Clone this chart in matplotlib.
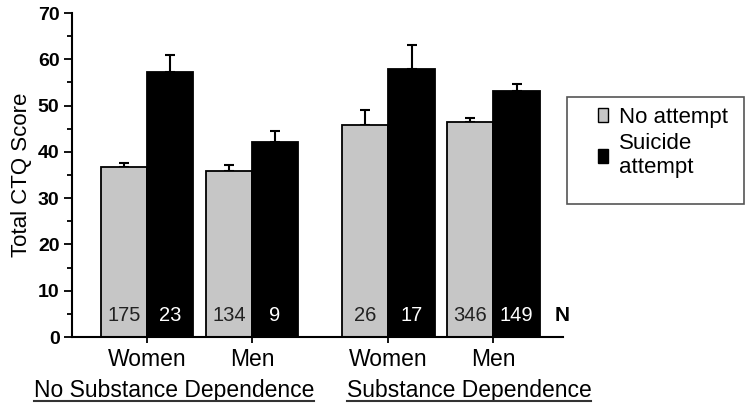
import matplotlib
matplotlib.use("Agg")
import matplotlib.pyplot as plt
from matplotlib.patches import Rectangle, Patch
from matplotlib.lines import Line2D
import matplotlib.transforms as mtrans

plt.rcParams['font.family'] = ['Liberation Sans', 'DejaVu Sans']

# data
sexes = ["Women", "Men", "Women", "Men"]
groups = ["No Substance Dependence", "Substance Dependence"]
no_attempt = [36.7, 35.9, 45.9, 46.5]
no_attempt_err = [0.9, 1.2, 3.2, 0.8]
attempt = [57.2, 42.2, 58.0, 53.1]
attempt_err = [3.8, 2.4, 5.0, 1.5]
n_no = [175, 134, 26, 346]
n_att = [23, 9, 17, 149]

pos = [0, 1, 2.3, 3.3]
w = 0.44
gray = "#c6c6c6"

fig = plt.figure(figsize=(7.5, 4.11), dpi=100)
ax = fig.add_axes([72/750, 74/411, 491/750, 324/411])

xg = [p - w/2 for p in pos]
xb = [p + w/2 for p in pos]
ax.bar(xg, no_attempt, w, color=gray, edgecolor="black", linewidth=1.3, zorder=2)
ax.bar(xb, attempt, w, color="black", edgecolor="black", linewidth=1.3, zorder=2)
ax.errorbar(xg, no_attempt, yerr=[[0]*4, no_attempt_err], fmt="none",
            ecolor="black", elinewidth=1.5, capsize=3.5, capthick=1.5, zorder=1)
ax.errorbar(xb, attempt, yerr=[[0]*4, attempt_err], fmt="none",
            ecolor="black", elinewidth=1.5, capsize=3.5, capthick=1.5, zorder=1)

for x, n in zip(xg, n_no):
    ax.text(x, 4.7, str(n), ha="center", va="center", fontsize=14.5, color="#222222", zorder=3)
for x, n in zip(xb, n_att):
    ax.text(x, 4.7, str(n), ha="center", va="center", fontsize=14.5, color="white", zorder=3)
ax.text(3.95, 4.7, "N", ha="center", va="center", fontsize=15, fontweight="bold")

ax.set_xlim(-0.714, 3.962)
ax.set_ylim(0, 70)
ax.set_yticks(range(0, 71, 10))
ax.set_yticks(range(5, 70, 10), minor=True)
for lab in ax.get_yticklabels():
    lab.set_fontweight("bold")
ax.tick_params(axis="y", which="major", length=6, width=1.3, labelsize=14, pad=3)
ax.tick_params(axis="y", which="minor", length=3.5, width=1.3)
ax.set_xticks(pos)
ax.set_xticklabels(sexes, fontsize=16.5)
ax.tick_params(axis="x", length=4, width=1.3, pad=4)
for s in ["top", "right"]:
    ax.spines[s].set_visible(False)
for s in ["left", "bottom"]:
    ax.spines[s].set_linewidth(1.5)
ax.set_ylabel("Total CTQ Score", fontsize=16, labelpad=4)

# group labels, underlined
tr = mtrans.blended_transform_factory(ax.transData, fig.transFigure)
glabels = []
for gx, g in zip([0.257, 3.067], groups):
    glabels.append(ax.text(gx, (411-397)/411, g, transform=tr, ha="center",
                           va="baseline", fontsize=16.5))
fig.canvas.draw()
r = fig.canvas.get_renderer()
for t in glabels:
    bb = t.get_window_extent(r)
    y = (411 - 401) / 411
    fig.add_artist(Line2D([bb.x0/750, bb.x1/750], [y, y], color="#333333", lw=1.5))

# legend
fig.add_artist(Rectangle((567/750, (411-204)/411), 177/750, 107/411,
                         transform=fig.transFigure, fill=False, edgecolor="#555555", lw=1.2))
handles = [Patch(facecolor=gray, edgecolor="black", label="No attempt"),
           Patch(facecolor="black", edgecolor="black", label="Suicide\nattempt")]
fig.legend(handles=handles, loc="upper left", bbox_to_anchor=(582/750, (411-91)/411),
           frameon=False, fontsize=16, handlelength=0.45, handleheight=0.6,
           handletextpad=0.5, labelspacing=0.25, borderpad=0.2)

fig.savefig("out.png", dpi=100)
